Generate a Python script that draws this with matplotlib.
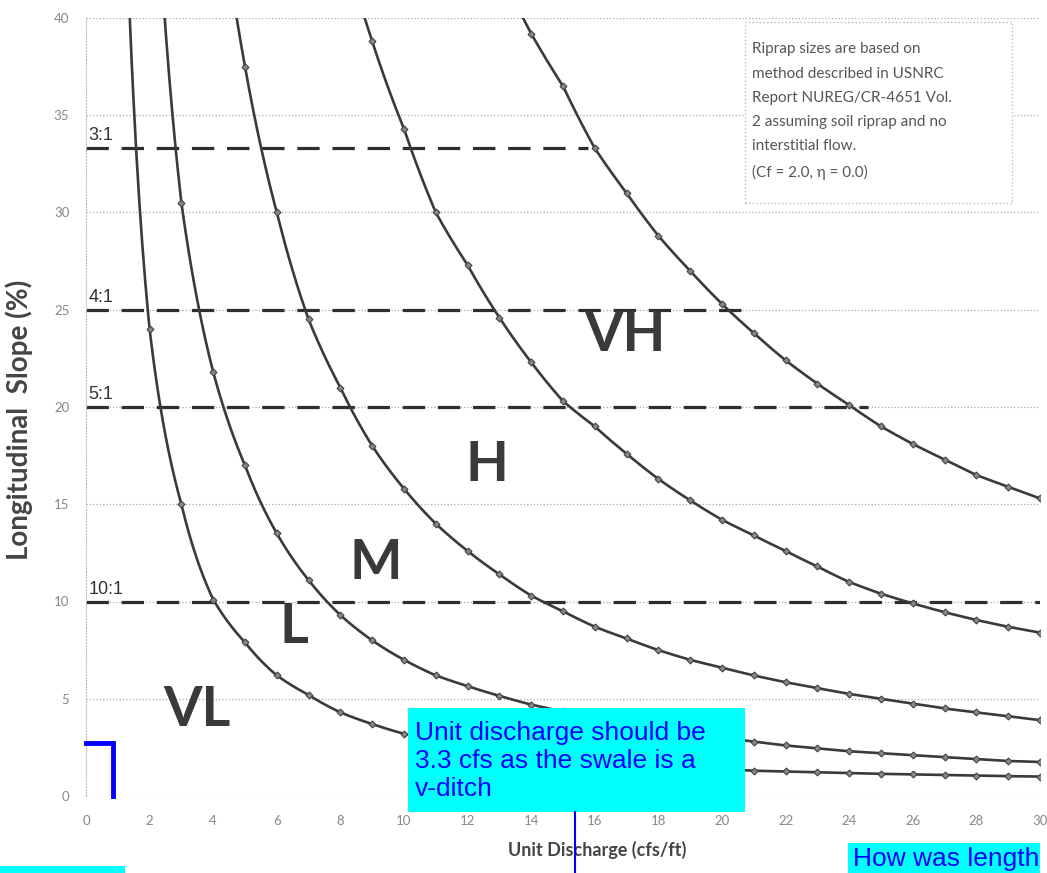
import numpy as np
import matplotlib.pyplot as plt
from matplotlib.patches import Rectangle
from matplotlib.lines import Line2D

W, H = 1047, 873

# slope (%) on each riprap boundary curve, one value per unit discharge step
vl_l_q = list(range(1, 31))
vl_l_s = [62, 24, 15.0, 10.1, 7.9, 6.2, 5.2, 4.3, 3.7, 3.2, 2.85, 2.55, 2.3, 2.1, 1.95,
          1.8, 1.68, 1.57, 1.47, 1.38, 1.3, 1.26, 1.22, 1.18, 1.14, 1.11, 1.08, 1.05, 1.02, 1.0]
l_m_q = list(range(2, 31))
l_m_s = [54, 30.5, 21.8, 17.0, 13.5, 11.1, 9.3, 8.0, 7.0, 6.2, 5.65, 5.15, 4.7, 4.35, 4.0,
         3.7, 3.45, 3.2, 3.0, 2.8, 2.6, 2.45, 2.3, 2.2, 2.1, 2.0, 1.9, 1.8, 1.75]
m_h_q = list(range(4, 31))
m_h_s = [49, 37.5, 30, 24.5, 21.0, 18.0, 15.8, 14.0, 12.6, 11.4, 10.3, 9.5, 8.7, 8.1,
         7.5, 7.0, 6.6, 6.2, 5.85, 5.55, 5.25, 5.0, 4.75, 4.5, 4.3, 4.1, 3.9]
h_vh_q = list(range(8, 31))
h_vh_s = [44.4, 38.8, 34.3, 30.0, 27.3, 24.6, 22.3, 20.3, 19.0, 17.6, 16.3, 15.2, 14.2,
          13.4, 12.6, 11.8, 11.0, 10.4, 9.9, 9.45, 9.05, 8.7, 8.4]
vh_q = list(range(13, 31))
vh_s = [42.5, 39.2, 36.5, 33.3, 31.0, 28.8, 27.0, 25.3, 23.8, 22.4, 21.2, 20.1, 19.0,
        18.1, 17.3, 16.5, 15.9, 15.3]

# side-slope reference lines
ratio_labels = ['3:1', '4:1', '5:1', '10:1']
ratio_slopes = [33.3, 25, 20, 10]
ratio_ends = [15.8, 20.8, 24.6, 30]

# riprap size zones
zone_names = ['VL', 'L', 'M', 'H', 'VH']
zone_q = [3.5, 6.55, 9.1, 12.6, 16.95]
zone_s = [4.4, 8.7, 12.0, 17.0, 23.7]

note = ("Riprap sizes are based on\nmethod described in USNRC\n"
        "Report NUREG/CR-4651 Vol.\n2 assuming soil riprap and no\n"
        "interstitial flow.\n(Cf = 2.0, \u03b7 = 0.0)")

fig = plt.figure(figsize=(W / 100, H / 100), dpi=100)
ax = fig.add_axes([86 / W, 1 - 796 / H, (1040 - 86) / W, (796 - 18) / H])

curve_col = '#3a3a3a'
for qs, ss in [(vl_l_q, vl_l_s), (l_m_q, l_m_s), (m_h_q, m_h_s),
               (h_vh_q, h_vh_s), (vh_q, vh_s)]:
    qs = np.array(qs, float)
    ss = np.array(ss, float)
    # smoothed line between points (power law between neighbours)
    qd = np.linspace(qs[0], qs[-1], 600)
    sd = np.exp(np.interp(np.log(qd), np.log(qs), np.log(ss)))
    ax.plot(qd, sd, color=curve_col, lw=1.9, zorder=3)
    ax.plot(qs, ss, ls='none', marker='D', ms=3.5, mfc='#888888', mec='#444444',
            mew=0.8, zorder=4)

for lab, s, end in zip(ratio_labels, ratio_slopes, ratio_ends):
    ax.plot([0, end], [s, s], color='#2e2e2e', lw=2.3, ls=(0, (7, 4)), zorder=2)
    ax.text(0.08, s + 0.2, lab, fontsize=13, color='#333333',
            family='Liberation Sans', ha='left', va='bottom', zorder=5)

for name, x, y in zip(zone_names, zone_q, zone_s):
    ax.text(x, y, name, fontsize=40, fontweight='bold', color='#3a3a3a',
            family='Lato', ha='center', va='center', zorder=5)

# note box
ax.add_patch(Rectangle((20.72, 30.5), 8.4, 9.3, fc='white', ec='#bbbbbb',
                       ls=':', lw=1, zorder=5))
ax.text(20.95, 38.75, note, fontsize=11, color='#555555', family='Lato',
        ha='left', va='top', linespacing=1.93, zorder=6)

ax.set_xlim(0, 30)
ax.set_ylim(0, 40)
ax.set_xticks(range(0, 31, 2))
ax.set_yticks(range(0, 41, 5))
ax.tick_params(length=0, labelsize=9.5, labelcolor='#888888')
ax.tick_params(axis='x', pad=14)
ax.tick_params(axis='y', pad=12)
for lbl in ax.get_xticklabels() + ax.get_yticklabels():
    lbl.set_family('Lato')
ax.yaxis.grid(True, color='#aaaaaa', ls=':', lw=0.9)
for side in ['top', 'right', 'bottom']:
    ax.spines[side].set_visible(False)
ax.spines['left'].set_color('#bbbbbb')
ax.spines['left'].set_linestyle(':')

fig.text(19 / W, 1 - 420 / H, 'Longitudinal  Slope (%)', rotation=90, fontsize=20,
         fontweight='bold', color='#444444', family='Lato', ha='center', va='center')
fig.text(597 / W, 1 - 850 / H, 'Unit Discharge (cfs/ft)', fontsize=13,
         fontweight='bold', color='#444444', family='Lato', ha='center', va='center')

# blue review markup
ax.plot([0, 0.85, 0.85], [2.75, 2.75, 0], color='#0000ff', lw=3.5, clip_on=False,
        solid_joinstyle='miter', zorder=6)


def fig_box(x0, y0, x1, y1):
    fig.add_artist(Rectangle((x0 / W, 1 - y1 / H), (x1 - x0) / W, (y1 - y0) / H,
                             fc='#00ffff', ec='none', transform=fig.transFigure,
                             zorder=10))


fig_box(408, 708, 745, 812)
fig.text(415 / W, 1 - 721 / H, 'Unit discharge should be\n3.3 cfs as the swale is a\nv-ditch',
         fontsize=19, color='#0000ff', family='Liberation Sans', ha='left', va='top',
         linespacing=1.2, zorder=11)
fig.add_artist(Line2D([575 / W, 575 / W], [1 - 812 / H, 0], color='#0000ff', lw=1.5,
                      transform=fig.transFigure, zorder=10))
fig_box(848, 843, 1040, 880)
fig.text(853 / W, 1 - 847 / H, 'How was length', fontsize=19, color='#0000ff',
         family='Liberation Sans', ha='left', va='top', zorder=11)
fig_box(0, 866, 125, 880)

fig.savefig('out.png', dpi=100)
